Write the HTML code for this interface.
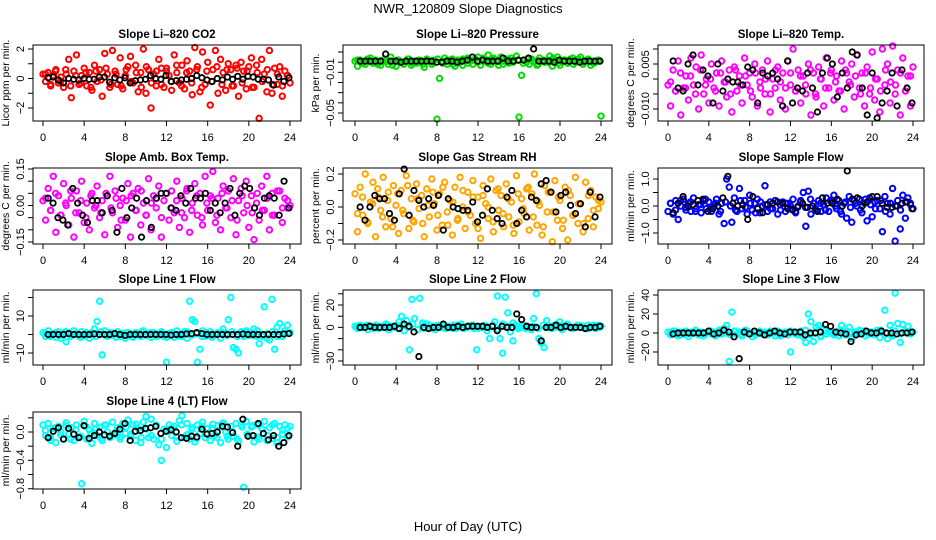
<!DOCTYPE html>
<html><head><meta charset="utf-8"><style>
html,body{margin:0;padding:0;background:#fff;}
svg{display:block;font-family:"Liberation Sans",sans-serif;}
</style></head><body>
<svg id="chart" width="936" height="540" viewBox="0 0 936 540" xmlns="http://www.w3.org/2000/svg">
<text x="468" y="13" text-anchor="middle" font-size="13">NWR_120809  Slope Diagnostics</text>
<text x="468" y="531" text-anchor="middle" font-size="13">Hour of Day (UTC)</text>
</svg>
<script>
const xTicks=[0,4,8,12,16,20,24];
const co2Vals=[0.3,-0.2,0.4,-0.5,0.2,0.6,-0.3,0.1,-0.6,0.3,1.3,-1.3,0.5,1.6,-0.4,0.2,0.7,-0.5,0.4,-0.8,0.9,-0.2,0.6,-1.2,1.7,0.3,-0.6,1.9,0.5,-0.4,1.4,-0.7,0.2,0.8,1.5,-0.3,0.9,-0.9,0.4,2.0,-1.0,0.6,-2.0,0.3,-0.5,1.3,0.7,-0.6,0.5,0.2,-0.8,1.6,0.4,-0.3,0.9,-0.7,1.2,0.5,-1.1,2.1,0.8,-0.9,1.8,-0.4,1.1,-1.8,0.6,1.9,-1.0,1.3,0.4,-0.8,1.0,0.6,-0.5,0.9,-1.2,1.1,0.5,-0.7,0.8,1.4,-0.6,0.9,-2.7,1.3,0.3,-0.9,1.9,-1.0,0.7,-0.4,0.8,-1.2,0.5,0.2,-0.3];
const co2Band=[0.3,-0.4,0.5,-0.2,0.6,-0.5,0.2,-0.3,0.4,-0.6,0.5,-0.1,0.7,-0.4,0.3,-0.5,0.6,-0.2,0.4,-0.6,0.8,-0.3,0.5,-0.4,0.7,-0.2,0.9,-0.5,0.4,-0.3,0.6,-0.6,0.5,-0.2,0.8,-0.4,0.6,-0.5,0.7,-0.3,0.5,-0.6,0.4,-0.2,0.6,-0.4,0.3,-0.5,0.2];
const co2Black=[0.05,0.1,-0.1,-0.3,0,-0.05,-0.1,0,-0.05,-0.05,0.1,0.1,-0.25,0.05,-0.1,0.05,-0.3,-0.15,-0.1,-0.05,0.2,0,-0.05,0.2,-0.2,-0.15,-0.1,-0.05,0,0.2,0.05,-0.1,-0.2,0,-0.1,0.1,-0.05,0.15,-0.05,0.15,0.1,-0.05,-0.05,-0.1,-0.45,0.1,-0.2,0.05];
const presVals=[0.001,-0.004,0.002,0.000,-0.002,0.001,0.004,-0.001,0.002,0.000,-0.003,0.001,0.002,-0.002,0.005,0.001,-0.004,0.002,0.000,-0.002,0.001,0.003,-0.003,0.001,-0.001,0.002,0.000,-0.005,0.003,0.001,-0.002,0.002,-0.056,-0.016,0.001,0.004,-0.002,0.001,0.003,-0.004,0.002,0.000,-0.003,0.002,0.004,0.001,-0.002,0.003,0.005,-0.003,0.002,0.001,0.007,-0.002,0.004,0.002,-0.003,0.005,0.001,0.003,-0.001,0.004,0.002,0.006,-0.054,-0.013,0.002,0.000,-0.002,0.003,0.001,-0.003,0.004,0.001,0.000,0.002,0.006,-0.004,0.002,0.005,-0.003,0.001,0.002,-0.001,0.003,0.004,0.000,0.002,0.005,-0.002,0.001,0.003,-0.003,0.001,0.000,0.002,-0.053];
const presBand=[0.002,-0.001,0.003,0.000,-0.002,0.002,0.001,-0.003,0.002,0.000,0.003,-0.001,0.001,-0.002,0.002,0.000,0.003,-0.001,0.002,-0.002,0.001,0.003,-0.001,0.002,0.000,0.004,-0.001,0.002,0.001,-0.002,0.003,0.000,0.002,-0.001,0.003,0.001,-0.002,0.002,0.000,0.004,-0.001,0.002,0.001,-0.002,0.003,0.000,0.002,-0.001,0.001];
const presBlack=[0.001,0.001,0.001,0.001,0.001,0.008,0.001,0.001,0.000,0.001,0.001,0.001,0.001,0.001,0.001,0.000,0.000,0.001,0.001,0.000,0.001,0.002,0.005,0.001,0.002,0.001,0.001,0.001,0.004,0.001,0.001,0.002,0.002,0.004,0.013,0.001,0.001,0.001,0.000,0.002,0.001,0.001,0.001,0.000,0.001,0.001,0.001,0.001];
const tempVals=[-0.002,-0.009,0.003,-0.004,0.006,-0.012,-0.003,0.001,-0.007,0.007,-0.002,0.004,-0.010,0.008,-0.005,0.000,-0.008,0.005,-0.003,0.002,-0.009,0.006,-0.001,-0.006,0.003,-0.011,0.004,-0.004,0.001,-0.008,0.007,-0.002,0.002,-0.006,0.005,-0.009,-0.001,0.003,-0.005,0.006,-0.011,0.000,-0.003,0.004,-0.007,0.002,-0.010,0.006,-0.002,0.010,-0.004,0.003,-0.008,0.001,-0.005,0.005,-0.012,0.002,-0.006,0.004,0.000,-0.009,0.007,-0.003,0.003,-0.007,0.001,-0.004,0.006,-0.010,0.002,-0.001,0.005,-0.006,0.008,-0.003,0.002,-0.009,0.004,-0.005,0.009,-0.007,0.000,-0.011,0.010,-0.002,0.005,-0.008,0.011,-0.005,0.003,-0.012,0.007,-0.004,0.001,-0.009,0.004];
const tempBand=[-0.001,-0.004,0.002,-0.003,0.001,-0.005,0.003,-0.002,0.000,-0.004,0.002,-0.001,-0.005,0.003,-0.002,0.001,-0.004,0.002,-0.003,0.000,-0.005,0.003,-0.001,-0.003,0.002,-0.004,0.001,-0.002,0.003,-0.005,0.000,-0.003,0.002,-0.001,-0.004,0.003,-0.002,0.001,-0.005,0.002,-0.003,0.000,-0.004,0.003,-0.001,-0.002,0.002,-0.004,0.001];
const tempBlack=[0.006,-0.003,-0.004,0.005,0.008,-0.002,0.003,0.001,-0.008,0.005,-0.004,0.000,-0.001,-0.001,-0.002,0.004,0.003,-0.008,0.002,0.001,0.002,0.000,-0.009,0.006,-0.008,-0.003,-0.004,0.002,-0.003,-0.011,0.002,0.007,0.005,-0.006,0.002,-0.003,0.009,0.008,-0.003,-0.012,0.002,-0.013,-0.008,-0.004,0.002,-0.009,0.003,-0.003,-0.008];
const ambVals=[0.02,-0.06,0.07,-0.02,0.12,-0.11,0.04,-0.04,0.09,0.00,-0.08,0.03,-0.13,0.06,-0.03,0.10,-0.07,0.01,-0.10,0.05,-0.01,0.08,-0.05,0.02,-0.12,0.04,0.12,-0.03,0.06,-0.09,0.00,0.03,-0.06,0.09,-0.13,0.05,-0.02,0.07,-0.08,0.01,-0.04,0.11,-0.10,0.04,-0.01,0.08,-0.13,0.02,0.16,-0.06,0.06,-0.03,0.10,-0.09,0.03,-0.05,0.07,-0.11,0.01,0.09,-0.04,0.05,-0.08,0.12,-0.02,0.04,0.14,-0.07,0.03,-0.10,0.08,-0.01,0.06,-0.05,0.11,-0.12,0.02,0.07,-0.03,0.10,-0.09,0.04,-0.14,0.01,-0.06,0.08,-0.02,0.12,-0.10,0.05,-0.04,-0.16,0.06,-0.07,0.03,-0.01,0.00];
const ambBand=[0.03,-0.02,0.05,-0.04,0.01,0.06,-0.03,0.02,-0.05,0.04,0.00,-0.03,0.05,-0.01,0.03,-0.06,0.02,0.04,-0.02,0.06,-0.04,0.01,0.03,-0.05,0.05,-0.01,0.02,-0.03,0.06,-0.02,0.04,-0.05,0.01,0.03,-0.04,0.05,-0.01,0.02,-0.06,0.04,0.00,-0.03,0.05,-0.02,0.03,-0.04,0.06,-0.01,0.02];
const ambBlack=[0.03,0.01,-0.05,-0.06,-0.08,0.07,0.01,-0.04,-0.07,0.02,0.02,-0.03,0.04,-0.02,-0.11,0.07,-0.05,-0.01,0.03,-0.13,0.02,-0.09,0.03,0.05,0.05,-0.01,-0.02,0.04,0.01,0.07,0.03,0.03,0.05,-0.02,0.01,-0.03,0.01,0.07,-0.04,0.05,0.08,0.07,-0.01,-0.04,0.03,0.04,0.03,-0.04,0.10,-0.01];
const rhVals=[0.08,-0.15,0.12,-0.05,0.20,-0.10,0.03,0.15,-0.18,0.06,-0.02,0.18,-0.12,0.09,-0.07,0.13,0.01,-0.16,0.10,-0.04,0.19,-0.13,0.05,-0.09,0.14,-0.01,0.07,-0.18,0.11,-0.06,0.17,0.02,-0.14,0.08,-0.11,0.15,-0.03,0.04,-0.17,0.12,-0.08,0.18,0.00,-0.13,0.09,-0.05,0.16,-0.10,0.06,-0.19,0.13,0.02,-0.07,0.17,-0.15,0.10,-0.02,0.07,-0.12,0.14,-0.06,0.03,-0.16,0.19,-0.09,0.05,-0.04,0.11,-0.14,0.08,0.20,-0.11,0.01,-0.17,0.13,-0.03,0.09,-0.21,0.16,-0.08,0.04,-0.13,0.12,-0.20,0.07,-0.05,0.18,-0.10,0.02,-0.15,0.15,-0.07,0.10,-0.12,0.06,-0.01,0.03];
const rhBand=[-0.04,0.06,-0.09,0.02,0.11,-0.06,0.04,-0.12,0.08,-0.02,0.13,-0.08,0.05,-0.10,0.01,0.09,-0.05,0.12,-0.11,0.03,-0.07,0.10,-0.03,0.06,-0.13,0.07,0.00,-0.09,0.11,-0.04,0.05,-0.11,0.08,-0.01,0.12,-0.06,0.03,-0.12,0.09,-0.03,0.06,-0.08,0.10,-0.05,0.02,-0.10,0.07,-0.02,0.04];
const rhBlack=[0.00,-0.08,0.00,0.07,0.05,0.05,-0.04,-0.08,0.08,0.23,-0.05,0.10,0.04,0.00,0.05,0.01,0.07,-0.14,0.05,0.00,-0.01,-0.02,-0.02,0.03,-0.09,-0.05,0.11,-0.02,-0.07,-0.10,0.06,0.10,-0.10,-0.02,-0.06,0.06,0.04,0.14,0.16,0.09,-0.03,0.07,0.09,0.01,-0.04,0.02,-0.12,0.09,-0.06,0.06];
const sfVals=[-0.2,0.1,-0.3,0.2,-0.5,0.0,0.25,-0.15,0.1,-0.2,0.3,-0.1,0.05,-0.25,0.2,-0.1,0.15,-0.2,0.0,0.25,-0.3,0.1,-0.65,1.0,0.7,-0.6,0.3,-0.2,0.65,-0.1,0.2,-0.3,0.4,-0.15,0.1,0.25,-0.25,0.0,0.75,-0.2,0.15,-0.1,0.2,-0.3,0.05,0.15,-0.2,0.1,-0.1,0.25,-0.25,0.0,0.2,0.5,-0.75,0.55,-0.3,0.1,-0.15,0.2,-0.2,0.05,0.3,-0.2,0.15,0.4,-0.1,0.2,-0.3,0.1,-0.45,0.35,-0.6,0.2,0.0,0.25,-0.25,0.1,-0.55,0.3,-0.4,0.15,0.2,-0.1,-0.95,0.35,0.1,-0.3,0.65,-1.3,0.2,-0.85,0.4,-0.45,0.3,0.1,-0.1];
const sfBand=[0.1,-0.15,0.2,-0.05,0.15,-0.2,0.05,0.25,-0.1,0.1,-0.2,0.15,0.0,-0.15,0.2,-0.05,0.1,-0.25,0.15,0.05,-0.1,0.2,-0.15,0.1,0.0,-0.2,0.15,-0.05,0.25,-0.1,0.1,-0.15,0.2,0.0,-0.2,0.15,-0.05,0.1,-0.15,0.25,0.05,-0.1,0.2,-0.2,0.1,0.0,-0.15,0.15,0.05];
const sfBlack=[-0.25,0.1,0.35,0.0,0.05,0.2,0.25,-0.2,-0.1,0.0,0.3,1.1,0.1,0.0,0.05,-0.5,0.35,-0.1,-0.25,0.05,0.1,0.15,0.1,-0.1,-0.15,-0.05,0.1,-0.05,0.0,-0.2,0.3,0.1,0.1,0.25,0.0,1.3,0.25,0.3,0.0,0.15,0.35,0.35,0.1,-0.05,-0.05,0.0,0.1,0.15,-0.1];
const l1Vals=[1,-1,2,-0.5,0.5,-1.5,1.5,-2,0.8,-4,1,-0.5,2,0.3,-1,1.5,-0.8,0.5,-2,1,3,7,18,-11,2,-1,1,-0.5,0.5,1.5,-1,0.3,-2,1,0.5,-1.5,1,0.2,-1,2,-0.5,0.8,-1.5,1,0.3,-0.5,1.5,-1,-15,0.5,1,-1.5,2,-0.8,0.5,1.5,-2,18,8,7,-15,-8,2,-1,0.5,1.5,-1,0.2,1,-2,3,0.5,8,20,-7,-8,-10,1.5,-1,2,-0.5,1,3,-1,-5,26,15,-2,-3,19,-8,4,6,-1,2,5,1];
const l1Band=[0.5,-1,1,-0.5,1.5,-1,0.5,-1.5,1,0,-1,1.5,-0.5,1,-1.5,0.5,1,-1,0,1.5,-0.5,1,-1,0.5,-1.5,1,0,-1,1.5,-0.5,0.5,-1,1,-1.5,0.5,1,-0.5,1.5,-1,0,1,-0.5,2,-1,0.5,1.5,-1,0.5,1];
const l1Black=[0,0,0,0,0.5,0,0,0,0,0.3,0,0,0,0.5,0,-0.5,0,0,0,0,0,0,0,0,-0.3,0,0,0.3,0.5,1,0.5,0,0,0,0,0,0,0,0.3,0,0,0,0,0,0,0,0.3,0.5];
const l2Vals=[1,-1,2,0,1,-2,1,0,2,-1,1,0,3,-2,1,0,2,5,10,-3,6,-20,25,8,-35,26,2,-1,3,0,1,-2,1,0,2,-1,1,0,2,-1,1,3,-1,0,1,2,-1,-20,1,0,2,-3,-10,1,5,28,-10,-23,27,13,-4,-12,2,1,0,2,-1,1,-2,8,30,-10,-14,-18,6,1,-1,2,0,5,-2,1,3,0,-1,1,2,0,1,-1,2,0,1,-1,2,1];
const l2Band=[1,0,2,-1,1,0,2,1,-1,2,0,3,-2,4,1,-1,2,0,1,-1,2,0,1,2,-1,1,0,2,-2,3,1,4,-1,2,0,1,-1,2,0,1,2,-1,1,0,2,1,-1,2,0];
const l2Black=[0,0,1,0,0,0,0,1,-1,3,1,-4,-26,0,-1,0,0,3,0,0,1,0,1,1,1,1,0,1,-3,1,0,0,12,7,1,0,0,-12,0,0,2,0,1,0,0,0,-1,0,0,1];
const l3Vals=[1,-2,2,0,-3,1,-1,2,-4,1,0,2,-2,1,-3,0,2,-1,1,-2,3,-1,5,8,-30,22,2,-1,1,-3,0,2,-1,-4,1,0,2,-1,1,-2,0,1,-3,2,-1,0,1,-2,-20,1,0,-2,2,-4,-10,20,12,-9,6,8,-3,4,-1,2,0,-2,1,-3,8,-1,2,6,-6,1,0,3,-1,2,0,-1,1,-2,3,-5,1,24,-6,8,-3,42,10,-10,9,2,7,-1,1];
const l3Band=[0,2,-2,1,-1,3,-2,0,2,-3,1,0,-2,2,-1,3,0,-2,1,-1,2,0,-3,1,2,-1,0,3,-2,1,-4,2,0,-1,3,-2,1,0,2,-3,1,-1,3,0,-2,2,-1,1,0];
const l3Black=[-1,0,0,0,0,0,0,2,-1,0,3,1,-4,-27,1,-1,2,0,-2,0,2,0,-1,1,1,1,-2,0,0,1,9,7,1,0,-1,-9,-2,-1,2,0,0,2,0,0,-1,0,0,1];
const l4Vals=[0.1,-0.05,0.12,-0.12,0.05,-0.15,0.08,0.0,-0.1,0.13,-0.03,0.06,-0.12,0.1,-0.07,-0.73,0.15,-0.1,0.03,-0.16,0.12,-0.05,0.07,-0.12,0.1,0.0,-0.08,0.14,-0.04,0.06,-0.1,0.12,-0.02,0.17,-0.06,0.1,-0.12,0.05,-0.15,0.14,0.22,-0.08,0.18,-0.1,0.1,-0.18,-0.4,0.04,-0.22,0.1,-0.05,0.08,-0.13,0.16,0.23,-0.07,0.12,-0.1,0.06,-0.14,0.1,-0.02,0.14,-0.08,0.05,-0.12,0.11,-0.04,0.09,-0.15,0.13,0.0,-0.1,0.08,-0.06,0.12,-0.13,0.1,-0.78,0.15,-0.05,0.07,-0.14,0.1,-0.1,0.05,0.15,-0.12,0.06,-0.09,0.12,-0.15,0.08,-0.03,0.1,-0.07,0.08];
const l4Band=[0.02,-0.08,0.06,-0.04,0.09,-0.1,0.03,-0.06,0.08,-0.02,0.05,-0.09,0.1,-0.05,0.01,-0.07,0.07,-0.03,0.11,-0.08,0.04,-0.05,0.09,-0.1,0.02,0.06,-0.07,0.1,-0.04,0.03,-0.09,0.08,-0.02,0.05,-0.08,0.11,-0.06,0.01,-0.1,0.07,-0.03,0.09,-0.07,0.04,-0.05,0.1,-0.08,0.03,0.05];
const l4Black=[-0.08,0.01,0.06,-0.1,0.05,-0.03,-0.08,0.09,-0.09,-0.05,0.0,-0.04,-0.06,-0.02,0.04,0.12,-0.12,0.01,0.02,0.05,0.06,0.08,-0.02,0.01,0.03,0.0,-0.08,-0.09,-0.06,-0.07,0.04,-0.03,-0.02,0.0,0.08,0.07,-0.01,-0.2,0.18,-0.06,-0.05,0.12,-0.02,-0.11,-0.05,-0.2,-0.15,-0.05];

const svg=document.getElementById('chart');
const NS='http://www.w3.org/2000/svg';
function mk(tag,attrs,parent){const e=document.createElementNS(NS,tag);for(const k in attrs)e.setAttribute(k,attrs[k]);(parent||svg).appendChild(e);return e;}
const cols=[{l:33,r:301,x0:43,x1:290},{l:343,r:612,x0:355,x1:601},{l:658,r:924,x0:668,x1:913}];
const rows=[{t:45,b:121},{t:168,b:244},{t:290,b:365},{t:412,b:489}];
const panels=[
 {name:'co2',title:'Slope Li\u2013820 CO2',ylab:'Licor ppm per min.',c:0,r:0,v1:2,p1:49,v2:-2,p2:108,ticks:[-2,-1,0,1,2],labels:[[2,'2'],[0,'0'],[-2,'\u22122']],color:'#ff0000',vals:co2Vals,band:co2Band,black:co2Black},
 {name:'pressure',title:'Slope Li\u2013820 Pressure',ylab:'kPa per min.',c:1,r:0,v1:0.01,p1:52,v2:-0.05,p2:113,ticks:[0.01,0,-0.01,-0.02,-0.03,-0.04,-0.05],labels:[[-0.01,'\u22120.01'],[-0.05,'\u22120.05']],color:'#00dd00',vals:presVals,band:presBand,black:presBlack},
 {name:'temp',title:'Slope Li\u2013820 Temp.',ylab:'degrees C per min.',c:2,r:0,v1:0.010,p1:49,v2:-0.010,p2:109,ticks:[0.01,0.005,0,-0.005,-0.01],labels:[[0.005,'0.005'],[-0.010,'\u22120.010']],color:'#ff00ff',vals:tempVals,band:tempBand,black:tempBlack},
 {name:'amb-box-temp',title:'Slope Amb. Box Temp.',ylab:'degrees C per min.',c:0,r:1,v1:0.15,p1:169,v2:-0.15,p2:242,ticks:[0.15,0.1,0.05,0,-0.05,-0.1,-0.15],labels:[[0.15,'0.15'],[0,'0.00'],[-0.15,'\u22120.15']],color:'#ff00ff',vals:ambVals,band:ambBand,black:ambBlack},
 {name:'gas-stream-rh',title:'Slope Gas Stream RH',ylab:'percent per min.',c:1,r:1,v1:0.2,p1:174,v2:-0.2,p2:240,ticks:[0.2,0.1,0,-0.1,-0.2],labels:[[0.2,'0.2'],[0,'0.0'],[-0.2,'\u22120.2']],color:'#ffa500',vals:rhVals,band:rhBand,black:rhBlack},
 {name:'sample-flow',title:'Slope Sample Flow',ylab:'ml/min per min.',c:2,r:1,v1:1,p1:179,v2:-1,p2:233,ticks:[1,0.5,0,-0.5,-1],labels:[[1,'1.0'],[0,'0.0'],[-1,'\u22121.0']],color:'#0000ff',vals:sfVals,band:sfBand,black:sfBlack},
 {name:'line1-flow',title:'Slope Line 1 Flow',ylab:'ml/min per min.',c:0,r:2,v1:10,p1:316,v2:-10,p2:353,ticks:[20,10,0,-10],labels:[[10,'10'],[-10,'\u221210']],color:'#00ffff',vals:l1Vals,band:l1Band,black:l1Black},
 {name:'line2-flow',title:'Slope Line 2 Flow',ylab:'ml/min per min.',c:1,r:2,v1:20,p1:305,v2:-30,p2:361,ticks:[30,20,10,0,-10,-20,-30],labels:[[20,'20'],[0,'0'],[-30,'\u221230']],color:'#00ffff',vals:l2Vals,band:l2Band,black:l2Black},
 {name:'line3-flow',title:'Slope Line 3 Flow',ylab:'ml/min per min.',c:2,r:2,v1:40,p1:295,v2:-20,p2:352,ticks:[40,20,0,-20],labels:[[40,'40'],[20,'20'],[0,'0'],[-20,'\u221220']],color:'#00ffff',vals:l3Vals,band:l3Band,black:l3Black},
 {name:'line4-flow',title:'Slope Line 4 (LT) Flow',ylab:'ml/min per min.',c:0,r:3,v1:0,p1:432,v2:-0.8,p2:488.7,ticks:[0.2,0,-0.2,-0.4,-0.6,-0.8],labels:[[0,'0.0'],[-0.4,'\u22120.4'],[-0.8,'\u22120.8']],color:'#00ffff',vals:l4Vals,band:l4Band,black:l4Black}
];
panels.forEach(p=>{
 const col=cols[p.c],row=rows[p.r];
 const xs=h=>col.x0+(h/24)*(col.x1-col.x0);
 const ys=v=>p.p1+(v-p.v1)*(p.p2-p.p1)/(p.v2-p.v1);
 const g=mk('g',{});
 
 
 const t=mk('text',{x:(col.l+col.r)/2,y:row.t-7,'text-anchor':'middle','font-size':'11.5','font-weight':'bold'},g);
 t.textContent=p.title;
 
 
 const pts=mk('g',{fill:'none'},g);
 
 
 const n=p.vals.length;
 p.vals.forEach((v,i)=>{
  const y=ys(v); if(y<row.t||y>row.b) return;
  const c=mk('circle',{cx:xs(i*24/(n-1)),cy:y,r:2.7,stroke:p.color,'stroke-width':2},pts);
  
  
 });
 const nb=p.band.length;
 p.band.forEach((v,i)=>{
  const y=ys(v); if(y<row.t||y>row.b) return;
  const c=mk('circle',{cx:xs((i+0.5)*24/nb),cy:y,r:2.7,stroke:p.color,'stroke-width':2},pts);
  
  
 });
 const m=p.black.length;
 p.black.forEach((v,i)=>{
  const y=ys(v); if(y<row.t||y>row.b) return;
  const c=mk('circle',{cx:xs(0.5+i*23.4/(m-1)),cy:y,r:2.7,stroke:'#000','stroke-width':1.8},pts);
  
  
 });
 const box=mk('rect',{x:col.l,y:row.t,width:col.r-col.l,height:row.b-row.t,fill:'none',stroke:'#000','stroke-width':1},g);
 
 
 const xa=mk('g',{},g);
 
 
 mk('line',{x1:xs(0),x2:xs(24),y1:row.b,y2:row.b,stroke:'#000'},xa);
 xTicks.forEach(h=>{
  mk('line',{x1:xs(h),x2:xs(h),y1:row.b,y2:row.b+5,stroke:'#000'},xa);
  const tl=mk('text',{x:xs(h),y:row.b+20,'text-anchor':'middle','font-size':'11'},xa);
  tl.textContent=h;
  
  
 });
 const ya=mk('g',{},g);
 
 
 p.ticks.forEach(v=>{mk('line',{x1:col.l-5,x2:col.l,y1:ys(v),y2:ys(v),stroke:'#000'},ya);});
 p.labels.forEach(([v,s])=>{
  const yy=ys(v);
  const tl=mk('text',{x:col.l-9,y:yy,'text-anchor':'middle','font-size':'11',transform:'rotate(-90 '+(col.l-9)+' '+yy+')'},ya);
  tl.textContent=s;
  
  
 });
 const cy=(row.t+row.b)/2,lx=col.l-24;
 const yl=mk('text',{x:lx,y:cy,'text-anchor':'middle','font-size':'10.5',transform:'rotate(-90 '+lx+' '+cy+')'},g);
 yl.textContent=p.ylab;
 
 
});
</script>
</body></html>
